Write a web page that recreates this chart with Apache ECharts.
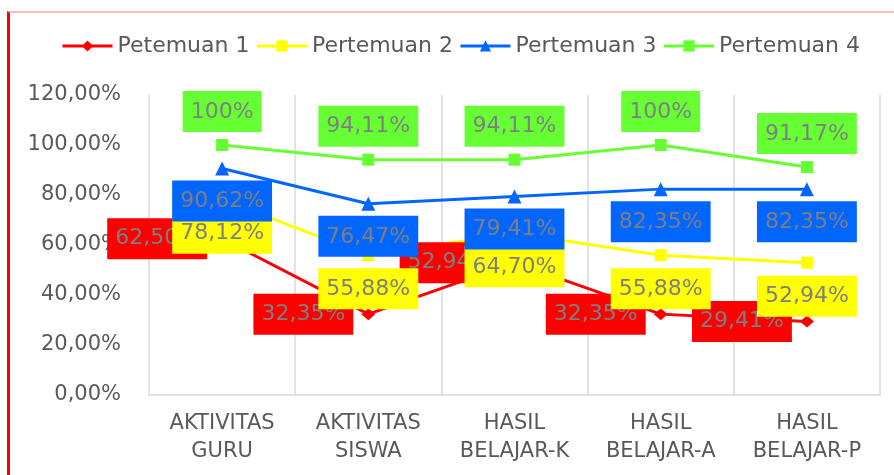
<!DOCTYPE html>
<html>
<head>
<meta charset="utf-8">
<script src="https://cdn.jsdelivr.net/npm/echarts@6/dist/echarts.min.js"></script>
<style>
  html, body { margin: 0; padding: 0; background: #fff; }
  #frame {
    position: absolute; left: 7px; top: 11px; right: 0; bottom: 0;
    border-left: 3px solid #ff0000; border-top: 2px solid #ffb8b8;
  }
  #chart { position: absolute; left: 0; top: 0; width: 894px; height: 475px; }
</style>
</head>
<body>
<div id="frame"></div>
<div id="chart"></div>
<script>
  // kategori sumbu x
  var categories = ['AKTIVITAS\nGURU', 'AKTIVITAS\nSISWA', 'HASIL\nBELAJAR-K', 'HASIL\nBELAJAR-A', 'HASIL\nBELAJAR-P'];
  var seriesNames = ['Petemuan 1', 'Pertemuan 2', 'Pertemuan 3', 'Pertemuan 4'];

  // nilai dalam persen
  var pertemuan1 = [62.50, 32.35, 52.94, 32.35, 29.41];
  var pertemuan2 = [78.12, 55.88, 64.70, 55.88, 52.94];
  var pertemuan3 = [90.62, 76.47, 79.41, 82.35, 82.35];
  var pertemuan4 = [100, 94.11, 94.11, 100, 91.17];

  var font = 'DejaVu Sans';

  function pct(v) {
    if (Math.round(v) === v) return v + '%';
    return v.toFixed(2).replace('.', ',') + '%';
  }

  function makeSeries(name, data, color, symbol, size, pos, dist) {
    return {
      name: name,
      type: 'line',
      data: data,
      symbol: symbol,
      symbolSize: size,
      lineStyle: { color: color, width: 3 },
      itemStyle: { color: color },
      label: {
        show: true,
        position: pos,
        distance: dist,
        formatter: function (p) { return pct(p.value); },
        backgroundColor: color,
        color: '#7f7f7f',
        fontFamily: font,
        fontSize: 22,
        lineHeight: 26,
        padding: [8, 8, 7, 8]
      }
    };
  }

  var chart = echarts.init(document.getElementById('chart'));

  var option = {
    animation: false,
    legend: {
      left: 56,
      top: 30,
      itemWidth: 50,
      itemHeight: 14,
      itemGap: 6,
      lineStyle: { width: 3 },
      textStyle: { color: '#595959', fontFamily: font, fontSize: 22 },
      data: seriesNames
    },
    grid: { left: 149, right: 14, top: 95, bottom: 80 },
    xAxis: {
      type: 'category',
      data: categories,
      axisLine: { lineStyle: { color: '#d9d9d9', width: 1.5 } },
      axisTick: { show: false },
      splitLine: { show: true, lineStyle: { color: '#d9d9d9', width: 1.5 } },
      axisLabel: {
        color: '#595959', fontFamily: font, fontSize: 21, lineHeight: 28, margin: 15,
        interval: 0
      }
    },
    yAxis: {
      type: 'value',
      min: 0,
      max: 120,
      interval: 20,
      splitLine: { show: false },
      axisLabel: {
        color: '#595959', fontFamily: font, fontSize: 21, margin: 28,
        formatter: function (v) { return v.toFixed(2).replace('.', ',') + '%'; }
      }
    },
    series: [
      makeSeries(seriesNames[0], pertemuan1, '#ff0000', 'diamond', [14, 12], 'left', 8),
      makeSeries(seriesNames[1], pertemuan2, '#ffff00', 'rect', 12, 'bottom', 7),
      makeSeries(seriesNames[2], pertemuan3, '#0066ff', 'triangle', 14, 'bottom', 5),
      makeSeries(seriesNames[3], pertemuan4, '#66ff33', 'rect', 12, 'top', 7)
    ]
  };

  chart.setOption(option);
</script>
</body>
</html>
